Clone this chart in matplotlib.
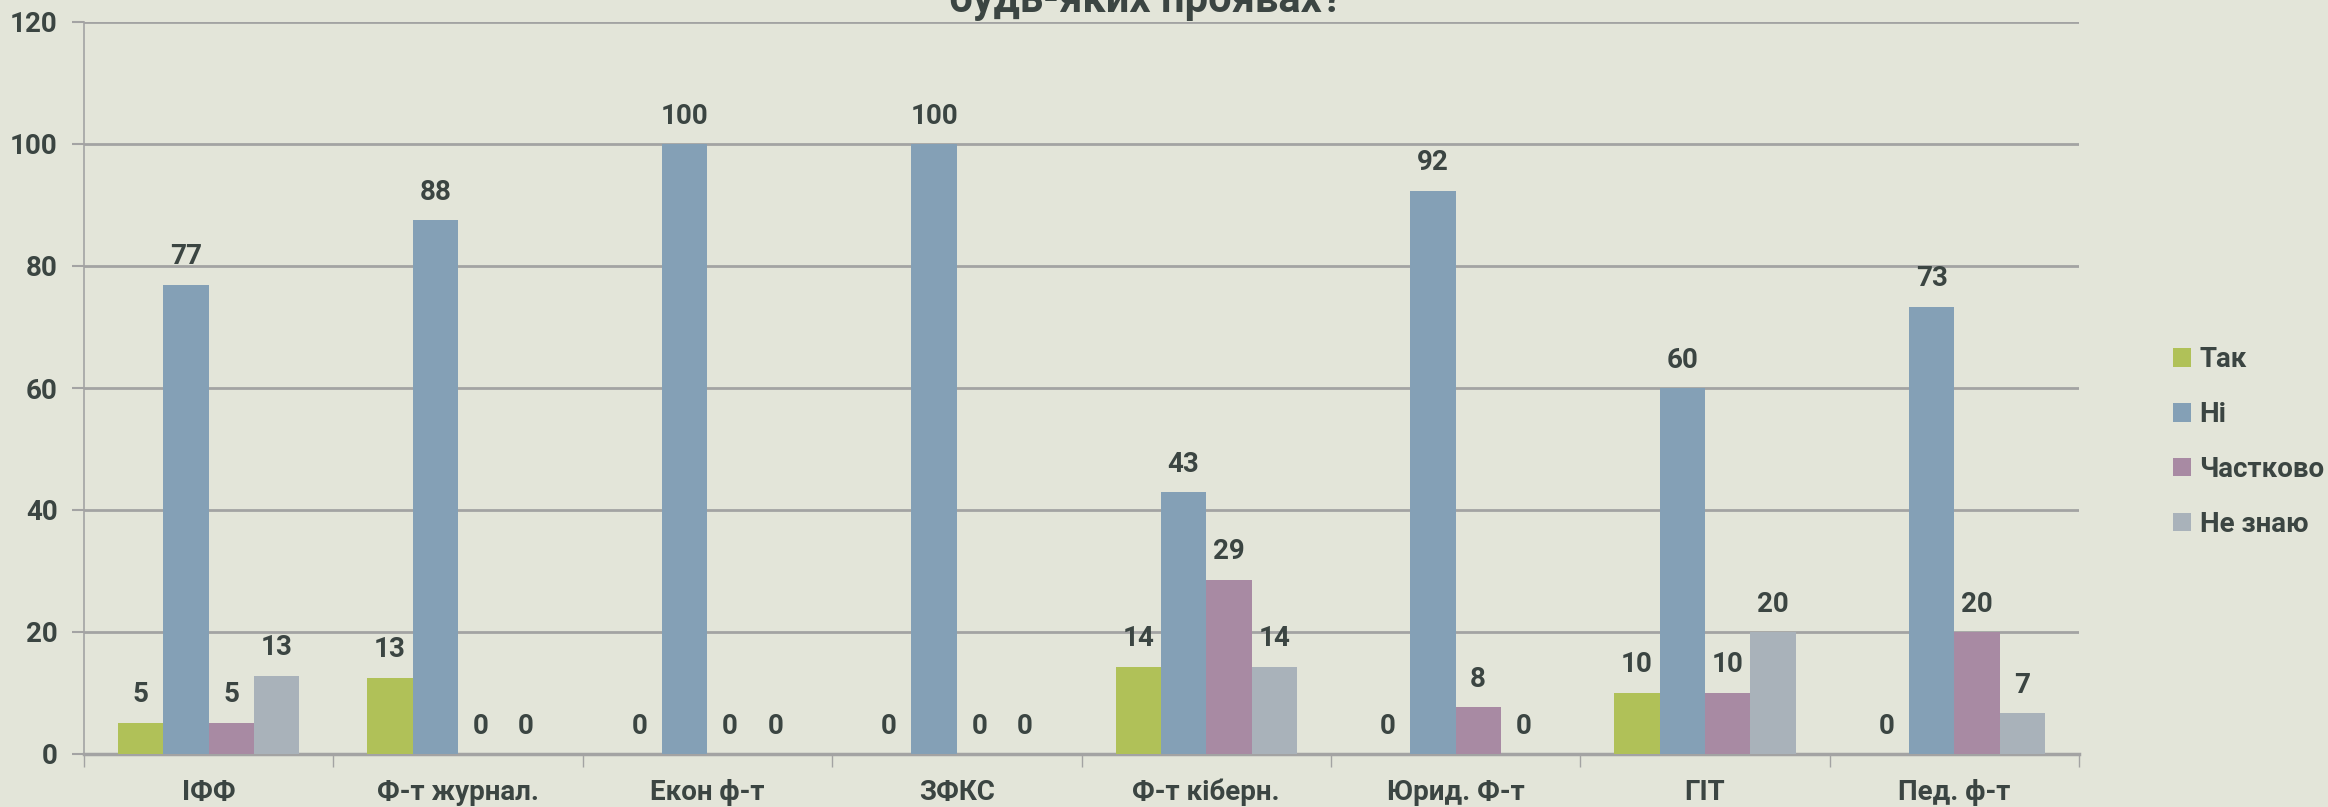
import matplotlib.pyplot as plt
import numpy as np

plt.rcParams['font.family'] = ['Roboto', 'DejaVu Sans']
plt.rcParams['font.weight'] = 'bold'

categories = ['ІФФ', 'Ф-т журнал.', 'Екон ф-т', 'ЗФКС', 'Ф-т кіберн.', 'Юрид. Ф-т', 'ГІТ', 'Пед. ф-т']
series_names = ['Так', 'Ні', 'Частково', 'Не знаю']
tak = [5.1, 12.5, 0, 0, 14.3, 0, 10, 0]
ni = [76.9, 87.5, 100, 100, 42.9, 92.3, 60, 73.3]
chastkovo = [5.1, 0, 0, 0, 28.6, 7.7, 10, 20]
ne_znayu = [12.8, 0, 0, 0, 14.3, 0, 20, 6.7]
yticks = [0, 20, 40, 60, 80, 100, 120]

colors = ['#B0C158', '#84A0B6', '#A88AA3', '#A9B2BA']
bg = '#E3E5D9'
txt = '#3B4542'
fs = 20

fig = plt.figure(figsize=(23.28, 8.07), dpi=100, facecolor=bg)
ax = fig.add_axes([84/2328, 1-754/807, (2079-84)/2328, (754-22)/807])
ax.set_facecolor(bg)

x = np.arange(len(categories))
w = 1/5.5
data = [tak, ni, chastkovo, ne_znayu]
for i, vals in enumerate(data):
    pos = x + (i - 1.5) * w
    bars = ax.bar(pos, vals, w, color=colors[i], label=series_names[i], zorder=3)
    for b, v in zip(bars, vals):
        ax.annotate(f'{int(v + 0.5):d}', (b.get_x() + w/2, v), xytext=(0, 28),
                    textcoords='offset pixels', ha='center', va='center',
                    fontsize=fs, fontweight='bold', color=txt)

ax.set_xlim(-0.5, len(categories) - 0.5)
ax.set_ylim(0, 120)
ax.set_yticks(yticks)
ax.yaxis.grid(True, color='#A3A3A3', linewidth=2, zorder=0)
ax.tick_params(axis='y', length=9, width=1.5, color='#A3A3A3', labelsize=fs,
               labelcolor=txt, pad=10)
ax.set_xticks(np.arange(len(categories) + 1) - 0.5, minor=False)
ax.set_xticklabels([])
ax.set_xticks(x, minor=True)
ax.set_xticklabels(categories, minor=True)
ax.tick_params(axis='x', which='major', length=9, width=1, color='#A3A3A3', direction='out')
ax.tick_params(axis='x', which='minor', length=0, labelsize=fs, labelcolor=txt, pad=18)
for s in ['top', 'right']:
    ax.spines[s].set_visible(False)
ax.spines['left'].set_color('#A3A3A3')
ax.spines['left'].set_linewidth(1.2)
ax.spines['bottom'].set_color('#A3A3A3')
ax.spines['bottom'].set_linewidth(2.5)

leg = ax.legend(loc='center left', bbox_to_anchor=(2162/2328, 1-442/807),
                bbox_transform=fig.transFigure, frameon=False, fontsize=fs,
                handlelength=0.65, handleheight=0.65, handletextpad=0.3,
                labelspacing=1.0, labelcolor=txt, borderaxespad=0)

fig.text(1146/2328, 1-12/807, 'будь-яких проявах?', ha='center', va='baseline',
         fontsize=30, fontweight='bold', color=txt)

fig.savefig('out.png', dpi=100, facecolor=bg)
